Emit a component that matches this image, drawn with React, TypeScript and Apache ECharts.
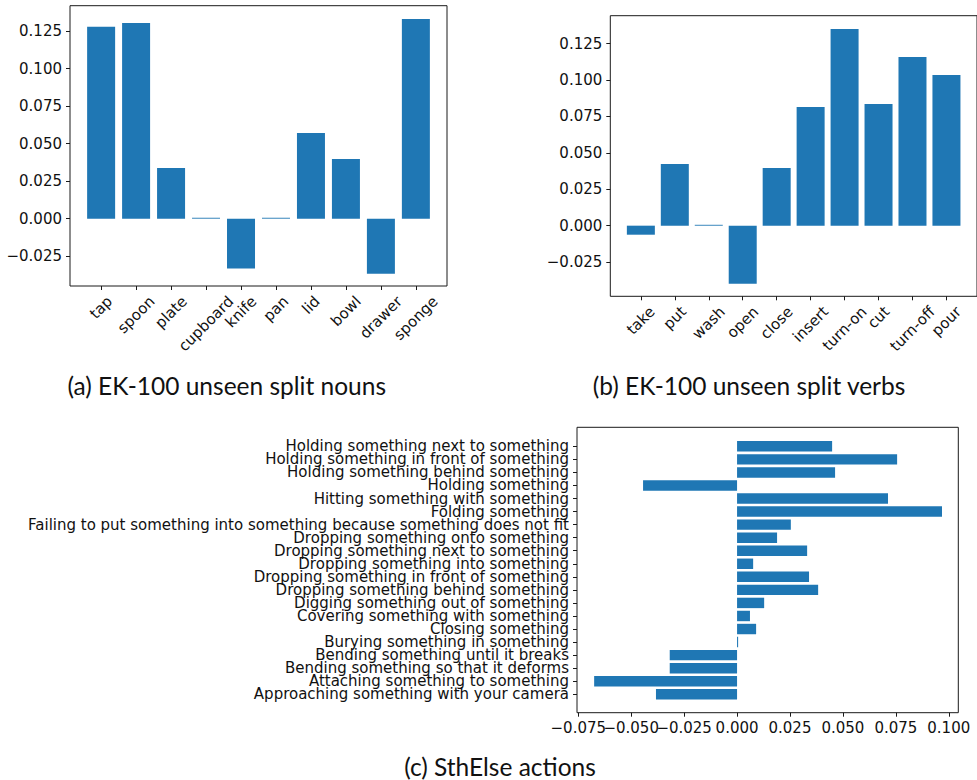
import React, { useEffect, useRef } from "react";
import * as echarts from "echarts";

const nounCats = ["tap", "spoon", "plate", "cupboard", "knife", "pan", "lid", "bowl", "drawer", "sponge"];
const nounVals = [0.128, 0.1305, 0.0338, 0.0006, -0.0333, 0.0006, 0.0571, 0.0398, -0.0367, 0.1331];

const verbCats = ["take", "put", "wash", "open", "close", "insert", "turn-on", "cut", "turn-off", "pour"];
const verbVals = [-0.0062, 0.0424, 0.0006, -0.0398, 0.0396, 0.0815, 0.1351, 0.0836, 0.1159, 0.1035];

const actionCats = [
  "Approaching something with your camera",
  "Attaching something to something",
  "Bending something so that it deforms",
  "Bending something until it breaks",
  "Burying something in something",
  "Closing something",
  "Covering something with something",
  "Digging something out of something",
  "Dropping something behind something",
  "Dropping something in front of something",
  "Dropping something into something",
  "Dropping something next to something",
  "Dropping something onto something",
  "Failing to put something into something because something does not fit",
  "Folding something",
  "Hitting something with something",
  "Holding something",
  "Holding something behind something",
  "Holding something in front of something",
  "Holding something next to something",
];
const actionVals = [
  -0.0383, -0.0675, -0.0318, -0.0318, 0.0005, 0.009, 0.0061, 0.0128, 0.0383, 0.034,
  0.0076, 0.0331, 0.0189, 0.0254, 0.0968, 0.0713, -0.0444, 0.0463, 0.0756, 0.0449,
];

const yTicksTop = [-0.025, 0, 0.025, 0.05, 0.075, 0.1, 0.125];
const xTicksAction = [-0.075, -0.05, -0.025, 0, 0.025, 0.05, 0.075, 0.1];
// labels of the action axis are split across two overlaid axes so that none is hidden
const xLabelsActionOdd = [-0.075, -0.025, 0.025, 0.075];
const xLabelsActionEven = [-0.05, 0, 0.05, 0.1];

const captions = ["(a) EK-100 unseen split nouns", "(b) EK-100 unseen split verbs", "(c) SthElse actions"];

const FONT = "DejaVu Sans";
const FS = 15;
const TXT = "#111";
const BAR = "#1f77b4";
const FRAME = "#1a1a1a";
const CAP_FS = 24.5;

const fmt = (v: number) => {
  const s = Math.abs(v).toFixed(3);
  return v < -1e-9 ? "\u2212" + s : s;
};

function measure(s: string) {
  const c = document.createElement("canvas").getContext("2d")!;
  c.font = `${FS}px "${FONT}"`;
  return c.measureText(s).width;
}

function rotatedLabel(cats: string[]) {
  const rich: any = {};
  cats.forEach((c, i) => {
    const w = measure(c);
    const h = FS * 1.1;
    const p = (w + h) / 2;
    rich["n" + i] = { fontSize: FS, fontFamily: FONT, color: TXT, padding: [p, p, 0, 0] };
  });
  return {
    customValues: cats.map((_, i) => i),
    rotate: 45,
    margin: 7,
    align: "center",
    verticalAlign: "middle",
    fontSize: FS,
    fontFamily: FONT,
    color: TXT,
    showMinLabel: true,
    showMaxLabel: true,
    hideOverlap: false,
    rich,
    formatter: (v: number) => {
      const i = Math.round(v);
      return `{n${i}|${cats[i]}}`;
    },
  };
}

export default function App() {
  const ref = useRef<HTMLDivElement>(null);
  useEffect(() => {
    const chart = echarts.init(ref.current!, null, { renderer: "svg" });
    const tickStyle = { lineStyle: { color: FRAME, width: 1 } };
    const noLine = { show: false, onZero: false };
    const valLabel = (vals: number[]) => ({
      customValues: vals,
      formatter: fmt,
      fontSize: FS,
      fontFamily: FONT,
      color: TXT,
      margin: 8,
      showMinLabel: true,
      showMaxLabel: true,
      hideOverlap: false,
    });
    const capStyle = { fontSize: CAP_FS, fontFamily: "Lato", fill: TXT, align: "center", verticalAlign: "middle" };
    const actionX = { gridIndex: 3, type: "value", min: -0.0756, max: 0.1045, position: "bottom", offset: 11.9, splitLine: { show: false }, axisLine: noLine };
    const option: any = {
      animation: false,
      backgroundColor: "#fff",
      grid: [
        { left: 70, top: 5.7, width: 377, height: 280.3, show: true, borderColor: FRAME, borderWidth: 1, backgroundColor: "transparent" },
        { left: 610.3, top: 15.7, width: 376.4, height: 280.6, show: true, borderColor: FRAME, borderWidth: 1, backgroundColor: "transparent" },
        { left: 577, top: 427.3, width: 381.3, height: 285.4, show: true, borderColor: FRAME, borderWidth: 1, backgroundColor: "transparent" },
        { left: 577, top: 439.8, width: 381.3, height: 261 },
      ],
      xAxis: [
        {
          gridIndex: 0, type: "value", min: -0.89, max: 9.89, position: "bottom",
          splitLine: { show: false }, axisLine: noLine,
          axisTick: { show: true, customValues: nounCats.map((_, i) => i), length: 4, ...tickStyle },
          axisLabel: rotatedLabel(nounCats),
        },
        {
          gridIndex: 1, type: "value", min: -0.9, max: 9.9, position: "bottom",
          splitLine: { show: false }, axisLine: noLine,
          axisTick: { show: true, customValues: verbCats.map((_, i) => i), length: 4, ...tickStyle },
          axisLabel: rotatedLabel(verbCats),
        },
        { gridIndex: 2, type: "value", show: false, min: 0, max: 1 },
        {
          ...actionX,
          axisTick: { show: true, customValues: xTicksAction, length: 4, ...tickStyle },
          axisLabel: valLabel(xLabelsActionOdd),
        },
        {
          ...actionX,
          axisTick: { show: false },
          axisLabel: valLabel(xLabelsActionEven),
        },
      ],
      yAxis: [
        {
          gridIndex: 0, type: "value", min: -0.0449, max: 0.142, position: "left",
          splitLine: { show: false }, axisLine: noLine,
          axisTick: { show: true, customValues: yTicksTop, length: 4, ...tickStyle },
          axisLabel: valLabel(yTicksTop),
        },
        {
          gridIndex: 1, type: "value", min: -0.0485, max: 0.1442, position: "left",
          splitLine: { show: false }, axisLine: noLine,
          axisTick: { show: true, customValues: yTicksTop, length: 4, ...tickStyle },
          axisLabel: valLabel(yTicksTop),
        },
        { gridIndex: 2, type: "value", show: false, min: 0, max: 1 },
        {
          gridIndex: 3, type: "category", data: actionCats, position: "left",
          splitLine: { show: false }, axisLine: noLine,
          axisTick: { show: true, alignWithLabel: true, length: 4, ...tickStyle },
          axisLabel: { interval: 0, fontSize: FS, fontFamily: FONT, color: TXT, margin: 8, hideOverlap: false },
        },
      ],
      series: [
        { type: "bar", xAxisIndex: 0, yAxisIndex: 0, data: nounVals.map((v, i) => [i, v]), barWidth: 28, itemStyle: { color: BAR } },
        { type: "bar", xAxisIndex: 1, yAxisIndex: 1, data: verbVals.map((v, i) => [i, v]), barWidth: 28, itemStyle: { color: BAR } },
        { type: "bar", xAxisIndex: 3, yAxisIndex: 3, data: actionVals, barWidth: "80%", itemStyle: { color: BAR } },
      ],
      graphic: [
        { type: "text", x: 226.7, y: 385, style: { text: captions[0], ...capStyle } },
        { type: "text", x: 749, y: 385, style: { text: captions[1], ...capStyle } },
        { type: "text", x: 500, y: 766, style: { text: captions[2], ...capStyle } },
      ],
    };
    chart.setOption(option);
    return () => chart.dispose();
  }, []);
  return <div ref={ref} style={{ position: "absolute", left: 0, top: 0, width: 977, height: 780 }} />;
}
